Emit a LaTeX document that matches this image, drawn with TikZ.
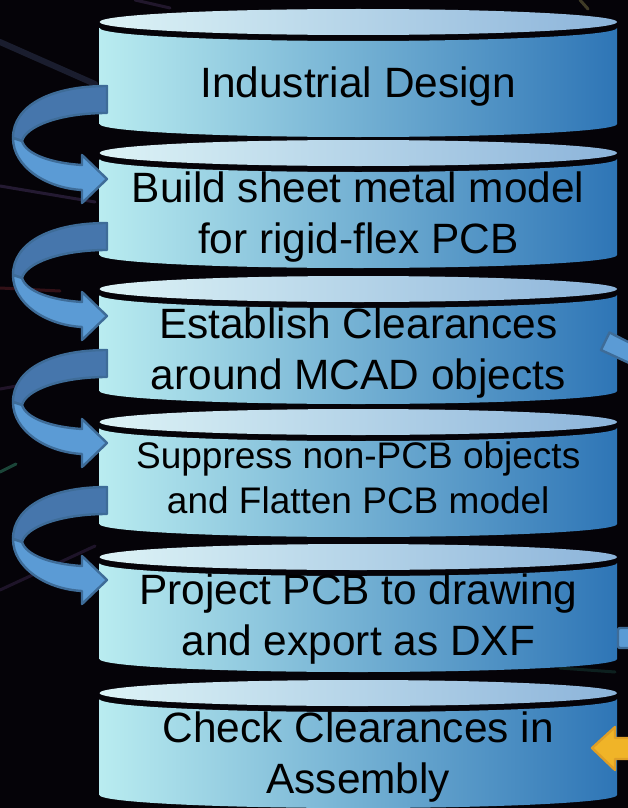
\documentclass[tikz,border=0pt]{standalone}
\usepackage{fontspec}
\setmainfont{Liberation Sans}

\definecolor{bgdark}{RGB}{5,3,8}
\definecolor{cylL}{RGB}{185,236,240}
\definecolor{cylR}{RGB}{46,117,182}
\definecolor{topL}{RGB}{221,243,246}
\definecolor{topR}{RGB}{140,180,218}
\definecolor{arrDark}{RGB}{70,118,172}
\definecolor{arrLight}{RGB}{91,155,213}
\definecolor{arrLine}{RGB}{62,108,152}
\definecolor{goldFill}{RGB}{240,180,40}
\definecolor{goldLine}{RGB}{222,158,38}

\tikzset{
  lbl/.style={font=\fontsize{42.4}{50.9}\selectfont, text=black, inner sep=0pt, anchor=base},
  lblsmall/.style={lbl, font=\fontsize{37}{44.4}\selectfont},
  cylbody/.style={left color=cylL, right color=cylR},
  cyltop/.style={left color=topL, right color=topR},
  bandback/.style={fill=arrDark, draw=arrLine, line width=2.4pt, line join=round},
  bandfront/.style={fill=arrLight, draw=arrLine, line width=2.4pt, line join=round},
  streak/.style={line width=3pt, line cap=round, opacity=0.3}
}

\begin{document}
\begin{tikzpicture}[x=1pt,y=-1pt]
\useasboundingbox (0,0) rectangle (628,808);
\fill[bgdark] (0,0) rectangle (628,808);
\clip (0,0) rectangle (628,808);

% faint light streaks in the dark backdrop
\draw[streak, color={rgb,255:red,90;green,110;blue,160}, line width=6pt, opacity=0.25] (0,42) -- (95,84);
\draw[streak, color={rgb,255:red,110;green,80;blue,150}] (0,186) -- (95,202);
\draw[streak, color={rgb,255:red,160;green,50;blue,60}] (0,288) -- (60,291);
\draw[streak, color={rgb,255:red,100;green,60;blue,120}] (0,389) -- (95,372);
\draw[streak, color={rgb,255:red,60;green,170;blue,130}, opacity=0.4] (0,472) -- (16,464);
\draw[streak, color={rgb,255:red,90;green,60;blue,120}] (0,590) -- (95,546);
\draw[streak, color={rgb,255:red,100;green,70;blue,130}] (135,0) -- (170,8);
\draw[streak, color={rgb,255:red,200;green,190;blue,110}] (580,0) -- (588,9);
\draw[streak, color={rgb,255:red,40;green,120;blue,100}, opacity=0.25] (560,668) -- (615,672);

% stacked cylinders: body, then top face
\foreach \c in {22,153,289,422,557,693} {
  \path[cylbody]
    (99.5,{\c+6}) -- (99.5,{\c+102})
    .. controls (99.5,{\c+109.2}) and (215.35,{\c+115}) .. (358.25,{\c+115})
    .. controls (501.15,{\c+115}) and (617,{\c+109.2}) .. (617,{\c+102})
    -- (617,{\c+6})
    .. controls (617,{\c+13.2}) and (501.15,{\c+19}) .. (358.25,{\c+19})
    .. controls (215.35,{\c+19}) and (99.5,{\c+13.2}) .. (99.5,{\c+6}) -- cycle;
  \path[cyltop] (358.25,\c) ellipse [x radius=258.75, y radius=13];
}

% step labels
\node[lbl] (s1) at (358.25,97) {Industrial Design};
\node[lbl] (s2a) at (358.25,202) {Build sheet metal model};
\node[lbl] (s2b) at (358.25,253) {for rigid-flex PCB};
\node[lbl] (s3a) at (358.25,338) {Establish Clearances};
\node[lbl] (s3b) at (358.25,389) {around MCAD objects};
\node[lblsmall] (s4a) at (358.25,468) {Suppress non-PCB objects};
\node[lblsmall] (s4b) at (358.25,513) {and Flatten PCB model};
\node[lbl] (s5a) at (358.25,604) {Project PCB to drawing};
\node[lbl] (s5b) at (358.25,655) {and export as DXF};
\node[lbl] (s6a) at (358.25,742) {Check Clearances in};
\node[lbl] (s6b) at (358.25,793) {Assembly};

% curved block arrows leading from one step down to the next
\foreach \t in {86,223,350,487} {
  \path[bandback]
    (107,\t) .. controls (50,\t) and (13,{\t+20}) .. (13,{\t+52})
    -- (22,{\t+55})
    .. controls (26,{\t+40}) and (60,{\t+27}) .. (107,{\t+27}) -- cycle;
  \path[bandfront]
    (13,{\t+52}) .. controls (13,{\t+80}) and (45,{\t+102}) .. (82,{\t+104})
    -- (82,{\t+117}) -- (107,{\t+93}) -- (82,{\t+69}) -- (82,{\t+79})
    .. controls (50,{\t+77}) and (26,{\t+68}) .. (22,{\t+55}) -- cycle;
}

% pieces entering from the right edge
\path[bandfront] (609.5,332.5) -- (640,348) -- (640,368) -- (601,350) -- cycle;
\path[bandfront, rounded corners=2pt] (618,628) rectangle (640,648);
\path[fill=goldFill, draw=goldLine, line width=2.4pt, line join=round]
  (592,748) -- (615,727) -- (615,738) -- (640,738) -- (640,759)
  -- (615,759) -- (615,770) -- cycle;
\end{tikzpicture}
\end{document}
